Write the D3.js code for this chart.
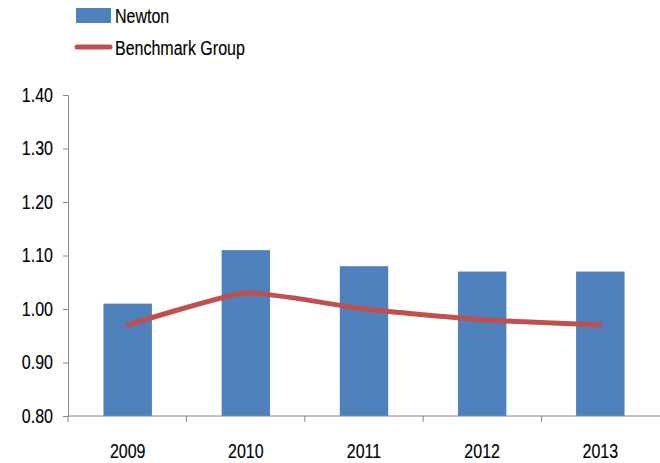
<!DOCTYPE html>
<html>
<head>
<meta charset="utf-8">
<script src="https://cdn.jsdelivr.net/npm/d3@7"></script>
<style>
  body { margin: 0; background: #fff; }
  text { font-family: "Liberation Sans", Arial, sans-serif; fill: #000; stroke: #000; stroke-width: 0.15px; }
</style>
</head>
<body>
<div id="chart"></div>
<script>
  // data
  var years = ["2009", "2010", "2011", "2012", "2013"];
  var newton = [1.01, 1.11, 1.08, 1.07, 1.07];
  var benchmark = [0.97, 1.03, 1.00, 0.98, 0.97];
  var yTicks = [0.80, 0.90, 1.00, 1.10, 1.20, 1.30, 1.40];

  var W = 660, H = 463;
  var margin = {top: 95, right: 0, bottom: 47, left: 68};
  // the original font is a narrow one, so squeeze the text a bit
  var sx = 0.8;

  var svg = d3.select("#chart").append("svg")
      .attr("width", W)
      .attr("height", H);

  var x = d3.scaleBand()
      .domain(years)
      .range([margin.left, 660])
      .paddingInner(0.59)
      .paddingOuter(0.3);

  var y = d3.scaleLinear()
      .domain([0.8, 1.4])
      .range([H - margin.bottom, margin.top]);

  var axisColor = "#868686";

  // helper for squeezed text
  function label(g, tx, ty, str, anchor) {
    return g.append("text")
        .attr("transform", "translate(" + tx + "," + ty + ") scale(" + sx + ",1)")
        .attr("text-anchor", anchor || "start")
        .style("font-size", "20px")
        .text(str);
  }

  // bars
  svg.append("g")
    .selectAll("rect")
    .data(years)
    .enter().append("rect")
      .attr("x", function(d) { return x(d); })
      .attr("y", function(d, i) { return y(newton[i]); })
      .attr("width", x.bandwidth())
      .attr("height", function(d, i) { return y(0.8) - y(newton[i]); })
      .style("fill", "#4F81BD");

  // y axis
  var yAxis = svg.append("g")
      .attr("transform", "translate(" + margin.left + ",0)")
      .call(d3.axisLeft(y).tickValues(yTicks).tickFormat(d3.format(".2f")).tickSize(5).tickPadding(10));
  yAxis.select(".domain").attr("stroke", axisColor);
  yAxis.selectAll(".tick line").attr("stroke", axisColor);
  yAxis.selectAll(".tick text")
      .attr("x", -15 / sx)
      .attr("transform", "scale(" + sx + ",1)")
      .attr("fill", "#000")
      .style("font-size", "20px")
      .style("font-family", "Liberation Sans, Arial, sans-serif");

  // x axis with ticks at band boundaries
  var x0 = margin.left;
  var xAxis = svg.append("g");
  xAxis.append("line")
      .attr("x1", x0).attr("x2", 660)
      .attr("y1", y(0.8)).attr("y2", y(0.8))
      .attr("stroke", axisColor);
  xAxis.selectAll(".xt")
    .data(d3.range(years.length))
    .enter().append("line")
      .attr("x1", function(i) { return x0 + i * (660 - x0) / years.length; })
      .attr("x2", function(i) { return x0 + i * (660 - x0) / years.length; })
      .attr("y1", y(0.8))
      .attr("y2", y(0.8) + 6)
      .attr("stroke", axisColor);
  years.forEach(function(d) {
    label(xAxis, x(d) + x.bandwidth() / 2, 458, d, "middle");
  });

  // benchmark line
  var line = d3.line()
      .x(function(d, i) { return x(years[i]) + x.bandwidth() / 2; })
      .y(function(d) { return y(d); })
      .curve(d3.curveCardinal.tension(0.5));

  svg.append("path")
      .datum(benchmark)
      .attr("d", line)
      .attr("fill", "none")
      .attr("stroke", "#C0504D")
      .attr("stroke-width", 5)
      .attr("stroke-linecap", "round")
      .attr("stroke-linejoin", "round");

  // legend
  var legend = svg.append("g");
  legend.append("rect")
      .attr("x", 76).attr("y", 8)
      .attr("width", 35).attr("height", 15)
      .style("fill", "#4F81BD");
  label(legend, 115, 23, "Newton");
  legend.append("line")
      .attr("x1", 77).attr("x2", 110)
      .attr("y1", 47).attr("y2", 47)
      .attr("stroke", "#C0504D")
      .attr("stroke-width", 5)
      .attr("stroke-linecap", "round");
  label(legend, 115, 55, "Benchmark Group");
</script>
</body>
</html>
